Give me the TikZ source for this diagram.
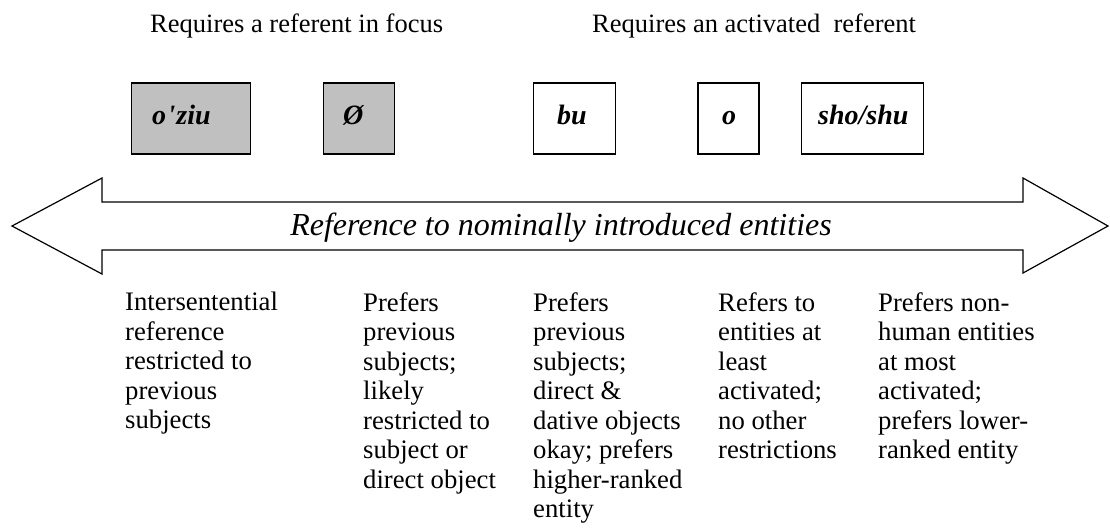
\documentclass[tikz,border=0pt]{standalone}
\usepackage{fontspec}
\setmainfont{Liberation Serif}
\newcommand\mytightlines{\lineskiplimit=-30pt\relax\lineskip=0pt\relax}
\definecolor{boxgray}{HTML}{C0C0C0}
\begin{document}
\begin{tikzpicture}[x=1pt,y=-1pt,
  title/.style={inner sep=0pt, anchor=base west, font=\fontsize{26.5}{28}\selectfont},
  col/.style={inner sep=0pt, anchor=north west, align=left,
    font=\fontsize{26.7}{29.5}\selectfont\mytightlines},
  formbox/.style={draw=black, line width=1.8pt, inner sep=0pt, minimum height=71pt},
  given/.style={formbox, fill=boxgray},
  form/.style={inner sep=0pt, anchor=base west, font=\fontsize{28}{28}\selectfont\bfseries\itshape},
  bigarrow/.style={draw=black, line width=1.2pt, fill=white, line join=miter},
]
\useasboundingbox (0,0) rectangle (1110,531);

% titles
\node[title] (t1) at (150,32) {Requires a referent in focus};
\node[title] (t2) at (592,32) {Requires an activated~ referent};

% boxes
\node[given, minimum width=119pt] (b1) at (191,118.5) {};
\node[given, minimum width=71pt] (b2) at (359,118.5) {};
\node[formbox, minimum width=82pt] (b3) at (574.5,118.5) {};
\node[formbox, minimum width=61pt] (b4) at (728.5,118.5) {};
\node[formbox, minimum width=122pt] (b5) at (862.5,118.5) {};

\node[form] (f1) at (152,124) {o\kern1.5pt\textquotesingle\kern1pt ziu};
\node[form] (f2) at (343,124) {Ø};
\node[form] (f3) at (557,124) {bu};
\node[form] (f4) at (722,124) {o};
\node[form] (f5) at (818,124) {sho/shu};

% double arrow
\draw[bigarrow] (12,226) -- (102,178) -- (102,202) -- (1023,202) -- (1023,178)
  -- (1108,226) -- (1023,273) -- (1023,250) -- (102,250) -- (102,274) -- cycle;
\node[inner sep=0pt, anchor=base, font=\fontsize{32}{32}\selectfont\itshape] (al) at (561,235)
  {Reference to nominally introduced entities};

% descriptions
\node[col] (c1) at (125,292) {Intersentential\\reference\\restricted to\\previous\\subjects};
\node[col] (c2) at (363,292) {Prefers\\previous\\subjects;\\likely\\restricted to\\subject or\\direct object};
\node[col] (c3) at (533,292) {Prefers\\previous\\subjects;\\direct \&\\dative objects\\okay; prefers\\higher-ranked\\entity};
\node[col] (c4) at (718,292) {Refers to\\entities at\\least\\activated;\\no other\\restrictions};
\node[col] (c5) at (878,292) {Prefers non-\\human entities\\at most\\activated;\\prefers lower-\\ranked entity};
\end{tikzpicture}
\end{document}
